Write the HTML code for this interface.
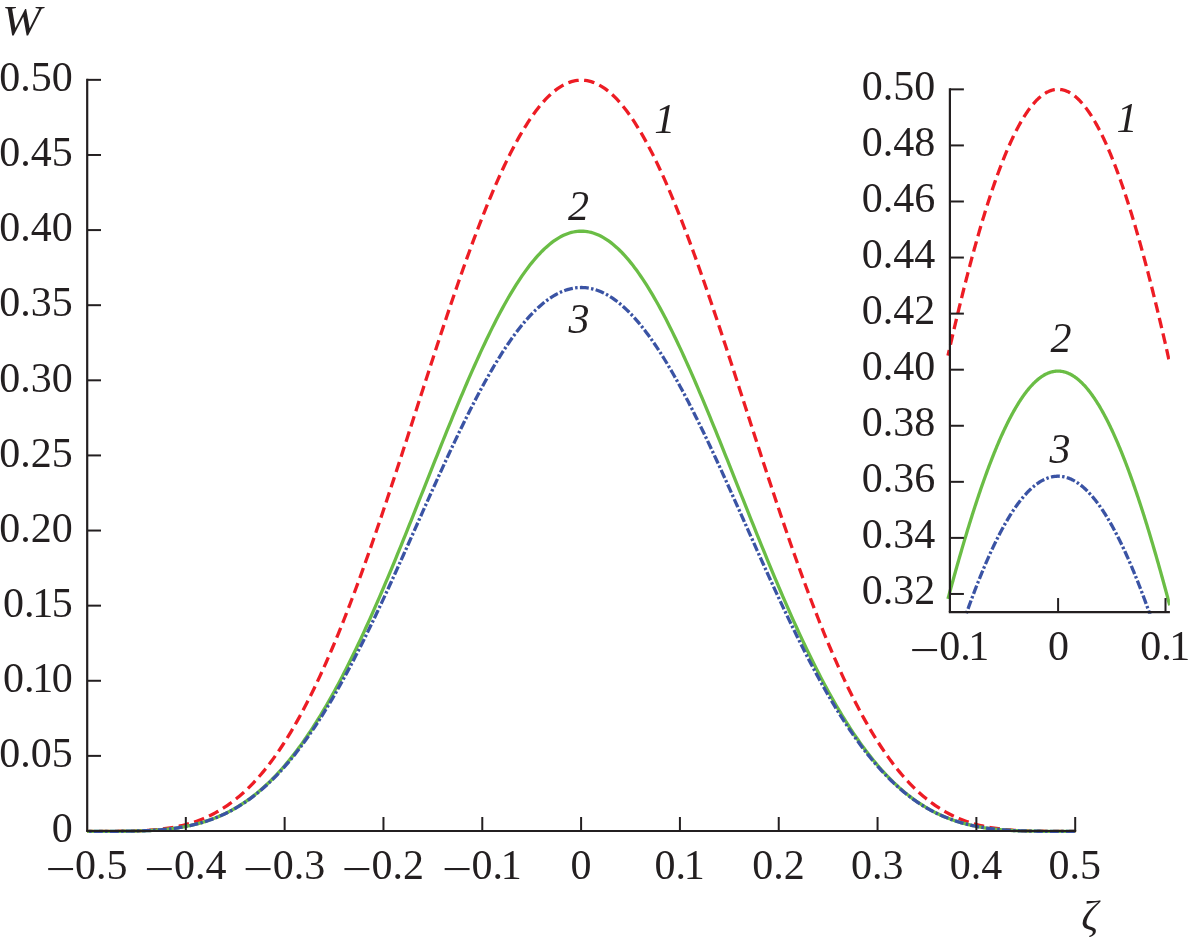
<!DOCTYPE html>
<html lang="en"><head><meta charset="utf-8"><title>W versus zeta</title>
<style>
html,body{margin:0;padding:0;background:#fff;}
body{width:1191px;height:937px;overflow:hidden;}
svg{display:block;}
text{font-family:"Liberation Serif","Times New Roman",serif;font-size:42px;fill:#231f20;}
.it{font-style:italic;}
.ax{stroke:#231f20;fill:none;}
</style></head><body>
<svg width="1191" height="937" viewBox="0 0 1191 937">
<rect width="1191" height="937" fill="#fff"/>
<g id="main-curves">
<path d="M87.20,831.35 L89.18,831.35 L91.15,831.35 L93.13,831.35 L95.11,831.35 L97.08,831.35 L99.06,831.35 L101.03,831.35 L103.01,831.35 L104.99,831.34 L106.96,831.34 L108.94,831.33 L110.92,831.33 L112.89,831.32 L114.87,831.31 L116.85,831.29 L118.82,831.27 L120.80,831.25 L122.78,831.23 L124.75,831.20 L126.73,831.16 L128.70,831.12 L130.68,831.08 L132.66,831.03 L134.63,830.97 L136.61,830.90 L138.59,830.82 L140.56,830.74 L142.54,830.65 L144.52,830.54 L146.49,830.42 L148.47,830.30 L150.44,830.16 L152.42,830.00 L154.40,829.83 L156.37,829.65 L158.35,829.45 L160.33,829.23 L162.30,829.00 L164.28,828.75 L166.26,828.48 L168.23,828.19 L170.21,827.87 L172.19,827.54 L174.16,827.18 L176.14,826.80 L178.11,826.39 L180.09,825.96 L182.07,825.50 L184.04,825.02 L186.02,824.50 L188.00,823.96 L189.97,823.38 L191.95,822.77 L193.93,822.13 L195.90,821.46 L197.88,820.75 L199.85,820.01 L201.83,819.23 L203.81,818.41 L205.78,817.56 L207.76,816.66 L209.74,815.72 L211.71,814.75 L213.69,813.73 L215.67,812.66 L217.64,811.56 L219.62,810.40 L221.60,809.20 L223.57,807.96 L225.55,806.66 L227.52,805.32 L229.50,803.93 L231.48,802.48 L233.45,800.99 L235.43,799.44 L237.41,797.84 L239.38,796.19 L241.36,794.48 L243.34,792.71 L245.31,790.89 L247.29,789.01 L249.26,787.08 L251.24,785.08 L253.22,783.03 L255.19,780.91 L257.17,778.74 L259.15,776.51 L261.12,774.21 L263.10,771.85 L265.08,769.43 L267.05,766.95 L269.03,764.40 L271.01,761.79 L272.98,759.11 L274.96,756.37 L276.93,753.57 L278.91,750.70 L280.89,747.76 L282.86,744.76 L284.84,741.69 L286.82,738.55 L288.79,735.35 L290.77,732.09 L292.75,728.75 L294.72,725.35 L296.70,721.88 L298.67,718.35 L300.65,714.75 L302.63,711.08 L304.60,707.34 L306.58,703.54 L308.56,699.68 L310.53,695.75 L312.51,691.75 L314.49,687.68 L316.46,683.56 L318.44,679.36 L320.42,675.11 L322.39,670.79 L324.37,666.40 L326.34,661.96 L328.32,657.45 L330.30,652.88 L332.27,648.25 L334.25,643.56 L336.23,638.81 L338.20,634.01 L340.18,629.14 L342.16,624.22 L344.13,619.24 L346.11,614.21 L348.08,609.12 L350.06,603.98 L352.04,598.78 L354.01,593.54 L355.99,588.25 L357.97,582.90 L359.94,577.51 L361.92,572.08 L363.90,566.59 L365.87,561.07 L367.85,555.50 L369.83,549.89 L371.80,544.24 L373.78,538.55 L375.75,532.82 L377.73,527.06 L379.71,521.26 L381.68,515.43 L383.66,509.57 L385.64,503.68 L387.61,497.76 L389.59,491.82 L391.57,485.85 L393.54,479.86 L395.52,473.84 L397.49,467.81 L399.47,461.76 L401.45,455.69 L403.42,449.61 L405.40,443.51 L407.38,437.41 L409.35,431.29 L411.33,425.17 L413.31,419.04 L415.28,412.92 L417.26,406.78 L419.24,400.65 L421.21,394.53 L423.19,388.40 L425.16,382.29 L427.14,376.18 L429.12,370.08 L431.09,364.00 L433.07,357.93 L435.05,351.87 L437.02,345.84 L439.00,339.82 L440.98,333.83 L442.95,327.86 L444.93,321.92 L446.90,316.01 L448.88,310.13 L450.86,304.28 L452.83,298.47 L454.81,292.69 L456.79,286.95 L458.76,281.25 L460.74,275.60 L462.72,269.99 L464.69,264.43 L466.67,258.92 L468.65,253.45 L470.62,248.04 L472.60,242.69 L474.57,237.39 L476.55,232.15 L478.53,226.97 L480.50,221.86 L482.48,216.81 L484.46,211.82 L486.43,206.91 L488.41,202.06 L490.39,197.28 L492.36,192.58 L494.34,187.96 L496.31,183.41 L498.29,178.94 L500.27,174.55 L502.24,170.24 L504.22,166.02 L506.20,161.88 L508.17,157.82 L510.15,153.86 L512.13,149.99 L514.10,146.21 L516.08,142.52 L518.06,138.92 L520.03,135.42 L522.01,132.02 L523.98,128.72 L525.96,125.52 L527.94,122.41 L529.91,119.41 L531.89,116.51 L533.87,113.72 L535.84,111.03 L537.82,108.45 L539.80,105.98 L541.77,103.61 L543.75,101.36 L545.72,99.21 L547.70,97.18 L549.68,95.26 L551.65,93.45 L553.63,91.75 L555.61,90.17 L557.58,88.70 L559.56,87.35 L561.54,86.11 L563.51,84.99 L565.49,83.99 L567.47,83.10 L569.44,82.33 L571.42,81.68 L573.39,81.15 L575.37,80.73 L577.35,80.44 L579.32,80.26 L581.30,80.20 L583.28,80.26 L585.25,80.44 L587.23,80.73 L589.21,81.15 L591.18,81.68 L593.16,82.33 L595.13,83.10 L597.11,83.99 L599.09,84.99 L601.06,86.11 L603.04,87.35 L605.02,88.70 L606.99,90.17 L608.97,91.75 L610.95,93.45 L612.92,95.26 L614.90,97.18 L616.88,99.21 L618.85,101.36 L620.83,103.61 L622.80,105.98 L624.78,108.45 L626.76,111.03 L628.73,113.72 L630.71,116.51 L632.69,119.41 L634.66,122.41 L636.64,125.52 L638.62,128.72 L640.59,132.02 L642.57,135.42 L644.54,138.92 L646.52,142.52 L648.50,146.21 L650.47,149.99 L652.45,153.86 L654.43,157.82 L656.40,161.88 L658.38,166.02 L660.36,170.24 L662.33,174.55 L664.31,178.94 L666.29,183.41 L668.26,187.96 L670.24,192.58 L672.21,197.28 L674.19,202.06 L676.17,206.91 L678.14,211.82 L680.12,216.81 L682.10,221.86 L684.07,226.97 L686.05,232.15 L688.03,237.39 L690.00,242.69 L691.98,248.04 L693.95,253.45 L695.93,258.92 L697.91,264.43 L699.88,269.99 L701.86,275.60 L703.84,281.25 L705.81,286.95 L707.79,292.69 L709.77,298.47 L711.74,304.28 L713.72,310.13 L715.70,316.01 L717.67,321.92 L719.65,327.86 L721.62,333.83 L723.60,339.82 L725.58,345.84 L727.55,351.87 L729.53,357.93 L731.51,364.00 L733.48,370.08 L735.46,376.18 L737.44,382.29 L739.41,388.40 L741.39,394.53 L743.36,400.65 L745.34,406.78 L747.32,412.92 L749.29,419.04 L751.27,425.17 L753.25,431.29 L755.22,437.41 L757.20,443.51 L759.18,449.61 L761.15,455.69 L763.13,461.76 L765.11,467.81 L767.08,473.84 L769.06,479.86 L771.03,485.85 L773.01,491.82 L774.99,497.76 L776.96,503.68 L778.94,509.57 L780.92,515.43 L782.89,521.26 L784.87,527.06 L786.85,532.82 L788.82,538.55 L790.80,544.24 L792.77,549.89 L794.75,555.50 L796.73,561.07 L798.70,566.59 L800.68,572.08 L802.66,577.51 L804.63,582.90 L806.61,588.25 L808.59,593.54 L810.56,598.78 L812.54,603.98 L814.52,609.12 L816.49,614.21 L818.47,619.24 L820.44,624.22 L822.42,629.14 L824.40,634.01 L826.37,638.81 L828.35,643.56 L830.33,648.25 L832.30,652.88 L834.28,657.45 L836.26,661.96 L838.23,666.40 L840.21,670.79 L842.18,675.11 L844.16,679.36 L846.14,683.56 L848.11,687.68 L850.09,691.75 L852.07,695.75 L854.04,699.68 L856.02,703.54 L858.00,707.34 L859.97,711.08 L861.95,714.75 L863.93,718.35 L865.90,721.88 L867.88,725.35 L869.85,728.75 L871.83,732.09 L873.81,735.35 L875.78,738.55 L877.76,741.69 L879.74,744.76 L881.71,747.76 L883.69,750.70 L885.67,753.57 L887.64,756.37 L889.62,759.11 L891.59,761.79 L893.57,764.40 L895.55,766.95 L897.52,769.43 L899.50,771.85 L901.48,774.21 L903.45,776.51 L905.43,778.74 L907.41,780.91 L909.38,783.03 L911.36,785.08 L913.34,787.08 L915.31,789.01 L917.29,790.89 L919.26,792.71 L921.24,794.48 L923.22,796.19 L925.19,797.84 L927.17,799.44 L929.15,800.99 L931.12,802.48 L933.10,803.93 L935.08,805.32 L937.05,806.66 L939.03,807.96 L941.00,809.20 L942.98,810.40 L944.96,811.56 L946.93,812.66 L948.91,813.73 L950.89,814.75 L952.86,815.72 L954.84,816.66 L956.82,817.56 L958.79,818.41 L960.77,819.23 L962.75,820.01 L964.72,820.75 L966.70,821.46 L968.67,822.13 L970.65,822.77 L972.63,823.38 L974.60,823.96 L976.58,824.50 L978.56,825.02 L980.53,825.50 L982.51,825.96 L984.49,826.39 L986.46,826.80 L988.44,827.18 L990.41,827.54 L992.39,827.87 L994.37,828.19 L996.34,828.48 L998.32,828.75 L1000.30,829.00 L1002.27,829.23 L1004.25,829.45 L1006.23,829.65 L1008.20,829.83 L1010.18,830.00 L1012.16,830.16 L1014.13,830.30 L1016.11,830.42 L1018.08,830.54 L1020.06,830.65 L1022.04,830.74 L1024.01,830.82 L1025.99,830.90 L1027.97,830.97 L1029.94,831.03 L1031.92,831.08 L1033.90,831.12 L1035.87,831.16 L1037.85,831.20 L1039.82,831.23 L1041.80,831.25 L1043.78,831.27 L1045.75,831.29 L1047.73,831.31 L1049.71,831.32 L1051.68,831.33 L1053.66,831.33 L1055.64,831.34 L1057.61,831.34 L1059.59,831.35 L1061.57,831.35 L1063.54,831.35 L1065.52,831.35 L1067.49,831.35 L1069.47,831.35 L1071.45,831.35 L1073.42,831.35 L1075.40,831.35" fill="none" stroke="#ed1c24" stroke-width="3.3" stroke-dasharray="10.6 5.4" stroke-dashoffset="4.15"/>
<path d="M87.20,831.35 L89.18,831.35 L91.15,831.35 L93.13,831.35 L95.11,831.35 L97.08,831.35 L99.06,831.35 L101.03,831.35 L103.01,831.35 L104.99,831.34 L106.96,831.34 L108.94,831.34 L110.92,831.33 L112.89,831.33 L114.87,831.32 L116.85,831.31 L118.82,831.29 L120.80,831.28 L122.78,831.26 L124.75,831.24 L126.73,831.22 L128.70,831.19 L130.68,831.15 L132.66,831.12 L134.63,831.07 L136.61,831.02 L138.59,830.97 L140.56,830.91 L142.54,830.84 L144.52,830.76 L146.49,830.68 L148.47,830.59 L150.44,830.48 L152.42,830.37 L154.40,830.25 L156.37,830.12 L158.35,829.97 L160.33,829.82 L162.30,829.65 L164.28,829.47 L166.26,829.27 L168.23,829.06 L170.21,828.83 L172.19,828.59 L174.16,828.33 L176.14,828.05 L178.11,827.76 L180.09,827.44 L182.07,827.11 L184.04,826.76 L186.02,826.38 L188.00,825.99 L189.97,825.57 L191.95,825.13 L193.93,824.67 L195.90,824.18 L197.88,823.66 L199.85,823.12 L201.83,822.55 L203.81,821.96 L205.78,821.34 L207.76,820.69 L209.74,820.00 L211.71,819.29 L213.69,818.55 L215.67,817.77 L217.64,816.97 L219.62,816.13 L221.60,815.25 L223.57,814.34 L225.55,813.40 L227.52,812.42 L229.50,811.40 L231.48,810.34 L233.45,809.25 L235.43,808.12 L237.41,806.95 L239.38,805.74 L241.36,804.48 L243.34,803.19 L245.31,801.85 L247.29,800.47 L249.26,799.05 L251.24,797.59 L253.22,796.08 L255.19,794.52 L257.17,792.92 L259.15,791.28 L261.12,789.59 L263.10,787.85 L265.08,786.06 L267.05,784.22 L269.03,782.34 L271.01,780.41 L272.98,778.43 L274.96,776.40 L276.93,774.32 L278.91,772.19 L280.89,770.01 L282.86,767.78 L284.84,765.49 L286.82,763.16 L288.79,760.77 L290.77,758.34 L292.75,755.85 L294.72,753.31 L296.70,750.71 L298.67,748.07 L300.65,745.37 L302.63,742.62 L304.60,739.81 L306.58,736.96 L308.56,734.05 L310.53,731.08 L312.51,728.07 L314.49,725.00 L316.46,721.88 L318.44,718.71 L320.42,715.49 L322.39,712.21 L324.37,708.89 L326.34,705.51 L328.32,702.08 L330.30,698.60 L332.27,695.07 L334.25,691.49 L336.23,687.85 L338.20,684.17 L340.18,680.45 L342.16,676.67 L344.13,672.84 L346.11,668.97 L348.08,665.05 L350.06,661.09 L352.04,657.08 L354.01,653.02 L355.99,648.92 L357.97,644.78 L359.94,640.59 L361.92,636.37 L363.90,632.10 L365.87,627.79 L367.85,623.44 L369.83,619.06 L371.80,614.63 L373.78,610.17 L375.75,605.68 L377.73,601.15 L379.71,596.59 L381.68,591.99 L383.66,587.37 L385.64,582.71 L387.61,578.02 L389.59,573.31 L391.57,568.57 L393.54,563.81 L395.52,559.02 L397.49,554.21 L399.47,549.38 L401.45,544.53 L403.42,539.66 L405.40,534.77 L407.38,529.87 L409.35,524.96 L411.33,520.03 L413.31,515.09 L415.28,510.14 L417.26,505.18 L419.24,500.22 L421.21,495.25 L423.19,490.28 L425.16,485.30 L427.14,480.33 L429.12,475.36 L431.09,470.39 L433.07,465.42 L435.05,460.47 L437.02,455.52 L439.00,450.58 L440.98,445.66 L442.95,440.74 L444.93,435.85 L446.90,430.97 L448.88,426.11 L450.86,421.27 L452.83,416.45 L454.81,411.66 L456.79,406.89 L458.76,402.15 L460.74,397.44 L462.72,392.77 L464.69,388.12 L466.67,383.52 L468.65,378.95 L470.62,374.41 L472.60,369.92 L474.57,365.47 L476.55,361.07 L478.53,356.71 L480.50,352.40 L482.48,348.14 L484.46,343.93 L486.43,339.78 L488.41,335.67 L490.39,331.63 L492.36,327.64 L494.34,323.72 L496.31,319.85 L498.29,316.05 L500.27,312.32 L502.24,308.65 L504.22,305.04 L506.20,301.51 L508.17,298.05 L510.15,294.66 L512.13,291.35 L514.10,288.11 L516.08,284.95 L518.06,281.87 L520.03,278.86 L522.01,275.94 L523.98,273.10 L525.96,270.35 L527.94,267.68 L529.91,265.09 L531.89,262.60 L533.87,260.19 L535.84,257.87 L537.82,255.64 L539.80,253.51 L541.77,251.46 L543.75,249.51 L545.72,247.66 L547.70,245.90 L549.68,244.23 L551.65,242.67 L553.63,241.20 L555.61,239.83 L557.58,238.56 L559.56,237.38 L561.54,236.31 L563.51,235.34 L565.49,234.47 L567.47,233.70 L569.44,233.03 L571.42,232.47 L573.39,232.00 L575.37,231.64 L577.35,231.39 L579.32,231.23 L581.30,231.18 L583.28,231.23 L585.25,231.39 L587.23,231.64 L589.21,232.00 L591.18,232.47 L593.16,233.03 L595.13,233.70 L597.11,234.47 L599.09,235.34 L601.06,236.31 L603.04,237.38 L605.02,238.56 L606.99,239.83 L608.97,241.20 L610.95,242.67 L612.92,244.23 L614.90,245.90 L616.88,247.66 L618.85,249.51 L620.83,251.46 L622.80,253.51 L624.78,255.64 L626.76,257.87 L628.73,260.19 L630.71,262.60 L632.69,265.09 L634.66,267.68 L636.64,270.35 L638.62,273.10 L640.59,275.94 L642.57,278.86 L644.54,281.87 L646.52,284.95 L648.50,288.11 L650.47,291.35 L652.45,294.66 L654.43,298.05 L656.40,301.51 L658.38,305.04 L660.36,308.65 L662.33,312.32 L664.31,316.05 L666.29,319.85 L668.26,323.72 L670.24,327.64 L672.21,331.63 L674.19,335.67 L676.17,339.78 L678.14,343.93 L680.12,348.14 L682.10,352.40 L684.07,356.71 L686.05,361.07 L688.03,365.47 L690.00,369.92 L691.98,374.41 L693.95,378.95 L695.93,383.52 L697.91,388.12 L699.88,392.77 L701.86,397.44 L703.84,402.15 L705.81,406.89 L707.79,411.66 L709.77,416.45 L711.74,421.27 L713.72,426.11 L715.70,430.97 L717.67,435.85 L719.65,440.74 L721.62,445.66 L723.60,450.58 L725.58,455.52 L727.55,460.47 L729.53,465.42 L731.51,470.39 L733.48,475.36 L735.46,480.33 L737.44,485.30 L739.41,490.28 L741.39,495.25 L743.36,500.22 L745.34,505.18 L747.32,510.14 L749.29,515.09 L751.27,520.03 L753.25,524.96 L755.22,529.87 L757.20,534.77 L759.18,539.66 L761.15,544.53 L763.13,549.38 L765.11,554.21 L767.08,559.02 L769.06,563.81 L771.03,568.57 L773.01,573.31 L774.99,578.02 L776.96,582.71 L778.94,587.37 L780.92,591.99 L782.89,596.59 L784.87,601.15 L786.85,605.68 L788.82,610.17 L790.80,614.63 L792.77,619.06 L794.75,623.44 L796.73,627.79 L798.70,632.10 L800.68,636.37 L802.66,640.59 L804.63,644.78 L806.61,648.92 L808.59,653.02 L810.56,657.08 L812.54,661.09 L814.52,665.05 L816.49,668.97 L818.47,672.84 L820.44,676.67 L822.42,680.45 L824.40,684.17 L826.37,687.85 L828.35,691.49 L830.33,695.07 L832.30,698.60 L834.28,702.08 L836.26,705.51 L838.23,708.89 L840.21,712.21 L842.18,715.49 L844.16,718.71 L846.14,721.88 L848.11,725.00 L850.09,728.07 L852.07,731.08 L854.04,734.05 L856.02,736.96 L858.00,739.81 L859.97,742.62 L861.95,745.37 L863.93,748.07 L865.90,750.71 L867.88,753.31 L869.85,755.85 L871.83,758.34 L873.81,760.77 L875.78,763.16 L877.76,765.49 L879.74,767.78 L881.71,770.01 L883.69,772.19 L885.67,774.32 L887.64,776.40 L889.62,778.43 L891.59,780.41 L893.57,782.34 L895.55,784.22 L897.52,786.06 L899.50,787.85 L901.48,789.59 L903.45,791.28 L905.43,792.92 L907.41,794.52 L909.38,796.08 L911.36,797.59 L913.34,799.05 L915.31,800.47 L917.29,801.85 L919.26,803.19 L921.24,804.48 L923.22,805.74 L925.19,806.95 L927.17,808.12 L929.15,809.25 L931.12,810.34 L933.10,811.40 L935.08,812.42 L937.05,813.40 L939.03,814.34 L941.00,815.25 L942.98,816.13 L944.96,816.97 L946.93,817.77 L948.91,818.55 L950.89,819.29 L952.86,820.00 L954.84,820.69 L956.82,821.34 L958.79,821.96 L960.77,822.55 L962.75,823.12 L964.72,823.66 L966.70,824.18 L968.67,824.67 L970.65,825.13 L972.63,825.57 L974.60,825.99 L976.58,826.38 L978.56,826.76 L980.53,827.11 L982.51,827.44 L984.49,827.76 L986.46,828.05 L988.44,828.33 L990.41,828.59 L992.39,828.83 L994.37,829.06 L996.34,829.27 L998.32,829.47 L1000.30,829.65 L1002.27,829.82 L1004.25,829.97 L1006.23,830.12 L1008.20,830.25 L1010.18,830.37 L1012.16,830.48 L1014.13,830.59 L1016.11,830.68 L1018.08,830.76 L1020.06,830.84 L1022.04,830.91 L1024.01,830.97 L1025.99,831.02 L1027.97,831.07 L1029.94,831.12 L1031.92,831.15 L1033.90,831.19 L1035.87,831.22 L1037.85,831.24 L1039.82,831.26 L1041.80,831.28 L1043.78,831.29 L1045.75,831.31 L1047.73,831.32 L1049.71,831.33 L1051.68,831.33 L1053.66,831.34 L1055.64,831.34 L1057.61,831.34 L1059.59,831.35 L1061.57,831.35 L1063.54,831.35 L1065.52,831.35 L1067.49,831.35 L1069.47,831.35 L1071.45,831.35 L1073.42,831.35 L1075.40,831.35" fill="none" stroke="#6abd45" stroke-width="3.3"/>
<path d="M87.20,831.35 L89.18,831.35 L91.15,831.35 L93.13,831.35 L95.11,831.35 L97.08,831.35 L99.06,831.35 L101.03,831.35 L103.01,831.35 L104.99,831.34 L106.96,831.34 L108.94,831.34 L110.92,831.33 L112.89,831.33 L114.87,831.32 L116.85,831.31 L118.82,831.29 L120.80,831.28 L122.78,831.26 L124.75,831.24 L126.73,831.22 L128.70,831.19 L130.68,831.15 L132.66,831.12 L134.63,831.07 L136.61,831.02 L138.59,830.97 L140.56,830.91 L142.54,830.84 L144.52,830.76 L146.49,830.68 L148.47,830.59 L150.44,830.48 L152.42,830.37 L154.40,830.25 L156.37,830.12 L158.35,829.97 L160.33,829.82 L162.30,829.65 L164.28,829.47 L166.26,829.27 L168.23,829.06 L170.21,828.83 L172.19,828.59 L174.16,828.33 L176.14,828.06 L178.11,827.76 L180.09,827.45 L182.07,827.12 L184.04,826.76 L186.02,826.39 L188.00,826.00 L189.97,825.58 L191.95,825.14 L193.93,824.68 L195.90,824.19 L197.88,823.68 L199.85,823.14 L201.83,822.57 L203.81,821.98 L205.78,821.36 L207.76,820.71 L209.74,820.04 L211.71,819.33 L213.69,818.59 L215.67,817.82 L217.64,817.02 L219.62,816.18 L221.60,815.32 L223.57,814.41 L225.55,813.48 L227.52,812.50 L229.50,811.50 L231.48,810.45 L233.45,809.37 L235.43,808.25 L237.41,807.09 L239.38,805.89 L241.36,804.65 L243.34,803.38 L245.31,802.06 L247.29,800.70 L249.26,799.30 L251.24,797.85 L253.22,796.36 L255.19,794.83 L257.17,793.26 L259.15,791.64 L261.12,789.98 L263.10,788.27 L265.08,786.52 L267.05,784.72 L269.03,782.88 L271.01,780.99 L272.98,779.05 L274.96,777.07 L276.93,775.04 L278.91,772.96 L280.89,770.83 L282.86,768.66 L284.84,766.44 L286.82,764.17 L288.79,761.85 L290.77,759.48 L292.75,757.07 L294.72,754.61 L296.70,752.10 L298.67,749.54 L300.65,746.93 L302.63,744.27 L304.60,741.57 L306.58,738.82 L308.56,736.02 L310.53,733.17 L312.51,730.28 L314.49,727.34 L316.46,724.35 L318.44,721.31 L320.42,718.23 L322.39,715.10 L324.37,711.93 L326.34,708.71 L328.32,705.45 L330.30,702.14 L332.27,698.79 L334.25,695.39 L336.23,691.95 L338.20,688.47 L340.18,684.95 L342.16,681.39 L344.13,677.78 L346.11,674.14 L348.08,670.45 L350.06,666.73 L352.04,662.97 L354.01,659.18 L355.99,655.34 L357.97,651.47 L359.94,647.57 L361.92,643.64 L363.90,639.67 L365.87,635.66 L367.85,631.63 L369.83,627.57 L371.80,623.48 L373.78,619.36 L375.75,615.21 L377.73,611.04 L379.71,606.85 L381.68,602.63 L383.66,598.38 L385.64,594.12 L387.61,589.83 L389.59,585.53 L391.57,581.21 L393.54,576.87 L395.52,572.51 L397.49,568.15 L399.47,563.76 L401.45,559.37 L403.42,554.97 L405.40,550.56 L407.38,546.14 L409.35,541.71 L411.33,537.28 L413.31,532.84 L415.28,528.40 L417.26,523.96 L419.24,519.53 L421.21,515.09 L423.19,510.66 L425.16,506.23 L427.14,501.81 L429.12,497.39 L431.09,492.99 L433.07,488.59 L435.05,484.21 L437.02,479.84 L439.00,475.48 L440.98,471.15 L442.95,466.82 L444.93,462.52 L446.90,458.24 L448.88,453.99 L450.86,449.75 L452.83,445.54 L454.81,441.36 L456.79,437.21 L458.76,433.08 L460.74,428.99 L462.72,424.93 L464.69,420.90 L466.67,416.91 L468.65,412.95 L470.62,409.04 L472.60,405.16 L474.57,401.32 L476.55,397.53 L478.53,393.78 L480.50,390.08 L482.48,386.42 L484.46,382.81 L486.43,379.25 L488.41,375.74 L490.39,372.29 L492.36,368.88 L494.34,365.53 L496.31,362.24 L498.29,359.00 L500.27,355.82 L502.24,352.71 L504.22,349.65 L506.20,346.65 L508.17,343.72 L510.15,340.85 L512.13,338.04 L514.10,335.31 L516.08,332.64 L518.06,330.03 L520.03,327.50 L522.01,325.04 L523.98,322.65 L525.96,320.33 L527.94,318.08 L529.91,315.91 L531.89,313.81 L533.87,311.79 L535.84,309.84 L537.82,307.97 L539.80,306.18 L541.77,304.47 L543.75,302.84 L545.72,301.28 L547.70,299.81 L549.68,298.42 L551.65,297.11 L553.63,295.88 L555.61,294.73 L557.58,293.67 L559.56,292.69 L561.54,291.80 L563.51,290.99 L565.49,290.26 L567.47,289.62 L569.44,289.06 L571.42,288.59 L573.39,288.20 L575.37,287.90 L577.35,287.69 L579.32,287.56 L581.30,287.52 L583.28,287.56 L585.25,287.69 L587.23,287.90 L589.21,288.20 L591.18,288.59 L593.16,289.06 L595.13,289.62 L597.11,290.26 L599.09,290.99 L601.06,291.80 L603.04,292.69 L605.02,293.67 L606.99,294.73 L608.97,295.88 L610.95,297.11 L612.92,298.42 L614.90,299.81 L616.88,301.28 L618.85,302.84 L620.83,304.47 L622.80,306.18 L624.78,307.97 L626.76,309.84 L628.73,311.79 L630.71,313.81 L632.69,315.91 L634.66,318.08 L636.64,320.33 L638.62,322.65 L640.59,325.04 L642.57,327.50 L644.54,330.03 L646.52,332.64 L648.50,335.31 L650.47,338.04 L652.45,340.85 L654.43,343.72 L656.40,346.65 L658.38,349.65 L660.36,352.71 L662.33,355.82 L664.31,359.00 L666.29,362.24 L668.26,365.53 L670.24,368.88 L672.21,372.29 L674.19,375.74 L676.17,379.25 L678.14,382.81 L680.12,386.42 L682.10,390.08 L684.07,393.78 L686.05,397.53 L688.03,401.32 L690.00,405.16 L691.98,409.04 L693.95,412.95 L695.93,416.91 L697.91,420.90 L699.88,424.93 L701.86,428.99 L703.84,433.08 L705.81,437.21 L707.79,441.36 L709.77,445.54 L711.74,449.75 L713.72,453.99 L715.70,458.24 L717.67,462.52 L719.65,466.82 L721.62,471.15 L723.60,475.48 L725.58,479.84 L727.55,484.21 L729.53,488.59 L731.51,492.99 L733.48,497.39 L735.46,501.81 L737.44,506.23 L739.41,510.66 L741.39,515.09 L743.36,519.53 L745.34,523.96 L747.32,528.40 L749.29,532.84 L751.27,537.28 L753.25,541.71 L755.22,546.14 L757.20,550.56 L759.18,554.97 L761.15,559.37 L763.13,563.76 L765.11,568.15 L767.08,572.51 L769.06,576.87 L771.03,581.21 L773.01,585.53 L774.99,589.83 L776.96,594.12 L778.94,598.38 L780.92,602.63 L782.89,606.85 L784.87,611.04 L786.85,615.21 L788.82,619.36 L790.80,623.48 L792.77,627.57 L794.75,631.63 L796.73,635.66 L798.70,639.67 L800.68,643.64 L802.66,647.57 L804.63,651.47 L806.61,655.34 L808.59,659.18 L810.56,662.97 L812.54,666.73 L814.52,670.45 L816.49,674.14 L818.47,677.78 L820.44,681.39 L822.42,684.95 L824.40,688.47 L826.37,691.95 L828.35,695.39 L830.33,698.79 L832.30,702.14 L834.28,705.45 L836.26,708.71 L838.23,711.93 L840.21,715.10 L842.18,718.23 L844.16,721.31 L846.14,724.35 L848.11,727.34 L850.09,730.28 L852.07,733.17 L854.04,736.02 L856.02,738.82 L858.00,741.57 L859.97,744.27 L861.95,746.93 L863.93,749.54 L865.90,752.10 L867.88,754.61 L869.85,757.07 L871.83,759.48 L873.81,761.85 L875.78,764.17 L877.76,766.44 L879.74,768.66 L881.71,770.83 L883.69,772.96 L885.67,775.04 L887.64,777.07 L889.62,779.05 L891.59,780.99 L893.57,782.88 L895.55,784.72 L897.52,786.52 L899.50,788.27 L901.48,789.98 L903.45,791.64 L905.43,793.26 L907.41,794.83 L909.38,796.36 L911.36,797.85 L913.34,799.30 L915.31,800.70 L917.29,802.06 L919.26,803.38 L921.24,804.65 L923.22,805.89 L925.19,807.09 L927.17,808.25 L929.15,809.37 L931.12,810.45 L933.10,811.50 L935.08,812.50 L937.05,813.48 L939.03,814.41 L941.00,815.32 L942.98,816.18 L944.96,817.02 L946.93,817.82 L948.91,818.59 L950.89,819.33 L952.86,820.04 L954.84,820.71 L956.82,821.36 L958.79,821.98 L960.77,822.57 L962.75,823.14 L964.72,823.68 L966.70,824.19 L968.67,824.68 L970.65,825.14 L972.63,825.58 L974.60,826.00 L976.58,826.39 L978.56,826.76 L980.53,827.12 L982.51,827.45 L984.49,827.76 L986.46,828.06 L988.44,828.33 L990.41,828.59 L992.39,828.83 L994.37,829.06 L996.34,829.27 L998.32,829.47 L1000.30,829.65 L1002.27,829.82 L1004.25,829.97 L1006.23,830.12 L1008.20,830.25 L1010.18,830.37 L1012.16,830.48 L1014.13,830.59 L1016.11,830.68 L1018.08,830.76 L1020.06,830.84 L1022.04,830.91 L1024.01,830.97 L1025.99,831.02 L1027.97,831.07 L1029.94,831.12 L1031.92,831.15 L1033.90,831.19 L1035.87,831.22 L1037.85,831.24 L1039.82,831.26 L1041.80,831.28 L1043.78,831.29 L1045.75,831.31 L1047.73,831.32 L1049.71,831.33 L1051.68,831.33 L1053.66,831.34 L1055.64,831.34 L1057.61,831.34 L1059.59,831.35 L1061.57,831.35 L1063.54,831.35 L1065.52,831.35 L1067.49,831.35 L1069.47,831.35 L1071.45,831.35 L1073.42,831.35 L1075.40,831.35" fill="none" stroke="#3a53a4" stroke-width="3.3" stroke-dasharray="8.9 2.3 2.5 2.3" stroke-dashoffset="9.31"/>
</g>
<clipPath id="ic"><rect x="930" y="60" width="239.9000000000001" height="553.65"/></clipPath>
<g id="inset-curves" clip-path="url(#ic)">
<path d="M947.97,355.60 L948.41,353.63 L948.86,351.68 L949.30,349.73 L949.75,347.78 L950.19,345.84 L950.63,343.91 L951.08,341.98 L951.52,340.06 L951.96,338.14 L952.41,336.22 L952.85,334.32 L953.29,332.41 L953.74,330.52 L954.18,328.63 L954.62,326.74 L955.07,324.86 L955.51,322.98 L955.96,321.12 L956.40,319.25 L956.84,317.39 L957.29,315.54 L957.73,313.70 L958.17,311.85 L958.62,310.02 L959.06,308.19 L959.50,306.37 L959.95,304.55 L960.39,302.74 L960.83,300.93 L961.28,299.13 L961.72,297.34 L962.16,295.55 L962.61,293.77 L963.05,291.99 L963.50,290.23 L963.94,288.46 L964.38,286.70 L964.83,284.95 L965.27,283.21 L965.71,281.47 L966.16,279.74 L966.60,278.01 L967.04,276.29 L967.49,274.58 L967.93,272.87 L968.37,271.17 L968.82,269.48 L969.26,267.79 L969.71,266.11 L970.15,264.44 L970.59,262.77 L971.04,261.11 L971.48,259.45 L971.92,257.80 L972.37,256.16 L972.81,254.53 L973.25,252.90 L973.70,251.28 L974.14,249.66 L974.58,248.05 L975.03,246.45 L975.47,244.86 L975.92,243.27 L976.36,241.69 L976.80,240.12 L977.25,238.55 L977.69,236.99 L978.13,235.44 L978.58,233.89 L979.02,232.35 L979.46,230.82 L979.91,229.30 L980.35,227.78 L980.79,226.27 L981.24,224.77 L981.68,223.27 L982.12,221.78 L982.57,220.30 L983.01,218.83 L983.46,217.36 L983.90,215.90 L984.34,214.45 L984.79,213.00 L985.23,211.57 L985.67,210.13 L986.12,208.71 L986.56,207.30 L987.00,205.89 L987.45,204.49 L987.89,203.10 L988.33,201.71 L988.78,200.33 L989.22,198.96 L989.67,197.60 L990.11,196.25 L990.55,194.90 L991.00,193.56 L991.44,192.23 L991.88,190.90 L992.33,189.59 L992.77,188.28 L993.21,186.98 L993.66,185.68 L994.10,184.40 L994.54,183.12 L994.99,181.85 L995.43,180.59 L995.87,179.34 L996.32,178.09 L996.76,176.85 L997.21,175.62 L997.65,174.40 L998.09,173.19 L998.54,171.98 L998.98,170.78 L999.42,169.59 L999.87,168.41 L1000.31,167.24 L1000.75,166.07 L1001.20,164.92 L1001.64,163.77 L1002.08,162.63 L1002.53,161.49 L1002.97,160.37 L1003.42,159.25 L1003.86,158.15 L1004.30,157.05 L1004.75,155.96 L1005.19,154.87 L1005.63,153.80 L1006.08,152.73 L1006.52,151.67 L1006.96,150.62 L1007.41,149.58 L1007.85,148.55 L1008.29,147.53 L1008.74,146.51 L1009.18,145.50 L1009.63,144.50 L1010.07,143.51 L1010.51,142.53 L1010.96,141.56 L1011.40,140.59 L1011.84,139.64 L1012.29,138.69 L1012.73,137.75 L1013.17,136.82 L1013.62,135.90 L1014.06,134.99 L1014.50,134.08 L1014.95,133.19 L1015.39,132.30 L1015.83,131.42 L1016.28,130.55 L1016.72,129.69 L1017.17,128.84 L1017.61,128.00 L1018.05,127.16 L1018.50,126.33 L1018.94,125.52 L1019.38,124.71 L1019.83,123.91 L1020.27,123.12 L1020.71,122.34 L1021.16,121.57 L1021.60,120.80 L1022.04,120.05 L1022.49,119.30 L1022.93,118.56 L1023.38,117.84 L1023.82,117.12 L1024.26,116.41 L1024.71,115.71 L1025.15,115.01 L1025.59,114.33 L1026.04,113.66 L1026.48,112.99 L1026.92,112.33 L1027.37,111.69 L1027.81,111.05 L1028.25,110.42 L1028.70,109.80 L1029.14,109.19 L1029.59,108.59 L1030.03,108.00 L1030.47,107.41 L1030.92,106.84 L1031.36,106.27 L1031.80,105.72 L1032.25,105.17 L1032.69,104.63 L1033.13,104.10 L1033.58,103.58 L1034.02,103.07 L1034.46,102.57 L1034.91,102.08 L1035.35,101.60 L1035.79,101.12 L1036.24,100.66 L1036.68,100.21 L1037.13,99.76 L1037.57,99.32 L1038.01,98.90 L1038.46,98.48 L1038.90,98.07 L1039.34,97.67 L1039.79,97.28 L1040.23,96.90 L1040.67,96.53 L1041.12,96.17 L1041.56,95.81 L1042.00,95.47 L1042.45,95.14 L1042.89,94.81 L1043.34,94.50 L1043.78,94.19 L1044.22,93.89 L1044.67,93.61 L1045.11,93.33 L1045.55,93.06 L1046.00,92.80 L1046.44,92.55 L1046.88,92.31 L1047.33,92.08 L1047.77,91.86 L1048.21,91.64 L1048.66,91.44 L1049.10,91.25 L1049.54,91.06 L1049.99,90.89 L1050.43,90.72 L1050.88,90.57 L1051.32,90.42 L1051.76,90.28 L1052.21,90.15 L1052.65,90.04 L1053.09,89.93 L1053.54,89.83 L1053.98,89.74 L1054.42,89.66 L1054.87,89.59 L1055.31,89.52 L1055.75,89.47 L1056.20,89.43 L1056.64,89.39 L1057.09,89.37 L1057.53,89.36 L1057.97,89.35 L1058.42,89.35 L1058.86,89.37 L1059.30,89.39 L1059.75,89.42 L1060.19,89.46 L1060.63,89.52 L1061.08,89.58 L1061.52,89.65 L1061.96,89.73 L1062.41,89.82 L1062.85,89.91 L1063.30,90.02 L1063.74,90.14 L1064.18,90.27 L1064.63,90.40 L1065.07,90.55 L1065.51,90.70 L1065.96,90.87 L1066.40,91.04 L1066.84,91.22 L1067.29,91.42 L1067.73,91.62 L1068.17,91.83 L1068.62,92.05 L1069.06,92.28 L1069.50,92.52 L1069.95,92.77 L1070.39,93.03 L1070.84,93.29 L1071.28,93.57 L1071.72,93.86 L1072.17,94.15 L1072.61,94.46 L1073.05,94.77 L1073.50,95.10 L1073.94,95.43 L1074.38,95.77 L1074.83,96.12 L1075.27,96.48 L1075.71,96.85 L1076.16,97.23 L1076.60,97.62 L1077.05,98.02 L1077.49,98.43 L1077.93,98.84 L1078.38,99.27 L1078.82,99.71 L1079.26,100.15 L1079.71,100.60 L1080.15,101.07 L1080.59,101.54 L1081.04,102.02 L1081.48,102.51 L1081.92,103.01 L1082.37,103.52 L1082.81,104.04 L1083.26,104.57 L1083.70,105.10 L1084.14,105.65 L1084.59,106.20 L1085.03,106.77 L1085.47,107.34 L1085.92,107.92 L1086.36,108.51 L1086.80,109.11 L1087.25,109.72 L1087.69,110.34 L1088.13,110.97 L1088.58,111.61 L1089.02,112.25 L1089.46,112.91 L1089.91,113.57 L1090.35,114.25 L1090.80,114.93 L1091.24,115.62 L1091.68,116.32 L1092.13,117.03 L1092.57,117.75 L1093.01,118.47 L1093.46,119.21 L1093.90,119.95 L1094.34,120.71 L1094.79,121.47 L1095.23,122.24 L1095.67,123.02 L1096.12,123.81 L1096.56,124.61 L1097.01,125.42 L1097.45,126.23 L1097.89,127.06 L1098.34,127.89 L1098.78,128.73 L1099.22,129.58 L1099.67,130.44 L1100.11,131.31 L1100.55,132.19 L1101.00,133.08 L1101.44,133.97 L1101.88,134.87 L1102.33,135.79 L1102.77,136.71 L1103.21,137.64 L1103.66,138.57 L1104.10,139.52 L1104.55,140.47 L1104.99,141.44 L1105.43,142.41 L1105.88,143.39 L1106.32,144.38 L1106.76,145.38 L1107.21,146.38 L1107.65,147.40 L1108.09,148.42 L1108.54,149.45 L1108.98,150.49 L1109.42,151.54 L1109.87,152.60 L1110.31,153.67 L1110.76,154.74 L1111.20,155.82 L1111.64,156.91 L1112.09,158.01 L1112.53,159.12 L1112.97,160.23 L1113.42,161.35 L1113.86,162.49 L1114.30,163.63 L1114.75,164.77 L1115.19,165.93 L1115.63,167.09 L1116.08,168.27 L1116.52,169.45 L1116.97,170.64 L1117.41,171.83 L1117.85,173.04 L1118.30,174.25 L1118.74,175.47 L1119.18,176.70 L1119.63,177.94 L1120.07,179.18 L1120.51,180.43 L1120.96,181.70 L1121.40,182.96 L1121.84,184.24 L1122.29,185.52 L1122.73,186.82 L1123.17,188.12 L1123.62,189.42 L1124.06,190.74 L1124.51,192.06 L1124.95,193.39 L1125.39,194.73 L1125.84,196.08 L1126.28,197.43 L1126.72,198.79 L1127.17,200.16 L1127.61,201.54 L1128.05,202.92 L1128.50,204.32 L1128.94,205.72 L1129.38,207.12 L1129.83,208.54 L1130.27,209.96 L1130.72,211.39 L1131.16,212.82 L1131.60,214.27 L1132.05,215.72 L1132.49,217.18 L1132.93,218.64 L1133.38,220.12 L1133.82,221.60 L1134.26,223.09 L1134.71,224.58 L1135.15,226.08 L1135.59,227.59 L1136.04,229.11 L1136.48,230.63 L1136.93,232.16 L1137.37,233.70 L1137.81,235.25 L1138.26,236.80 L1138.70,238.36 L1139.14,239.92 L1139.59,241.50 L1140.03,243.07 L1140.47,244.66 L1140.92,246.25 L1141.36,247.86 L1141.80,249.46 L1142.25,251.08 L1142.69,252.70 L1143.13,254.32 L1143.58,255.96 L1144.02,257.60 L1144.47,259.25 L1144.91,260.90 L1145.35,262.56 L1145.80,264.23 L1146.24,265.90 L1146.68,267.58 L1147.13,269.27 L1147.57,270.96 L1148.01,272.66 L1148.46,274.37 L1148.90,276.08 L1149.34,277.80 L1149.79,279.52 L1150.23,281.26 L1150.68,282.99 L1151.12,284.74 L1151.56,286.49 L1152.01,288.24 L1152.45,290.01 L1152.89,291.77 L1153.34,293.55 L1153.78,295.33 L1154.22,297.12 L1154.67,298.91 L1155.11,300.71 L1155.55,302.51 L1156.00,304.32 L1156.44,306.14 L1156.88,307.96 L1157.33,309.79 L1157.77,311.63 L1158.22,313.47 L1158.66,315.31 L1159.10,317.16 L1159.55,319.02 L1159.99,320.88 L1160.43,322.75 L1160.88,324.63 L1161.32,326.51 L1161.76,328.39 L1162.21,330.28 L1162.65,332.18 L1163.09,334.08 L1163.54,335.99 L1163.98,337.90 L1164.43,339.82 L1164.87,341.74 L1165.31,343.67 L1165.76,345.60 L1166.20,347.54 L1166.64,349.49 L1167.09,351.44 L1167.53,353.39 L1167.97,355.35 L1168.42,357.32 L1168.86,359.29 L1169.30,361.26 L1169.75,363.24" fill="none" stroke="#ed1c24" stroke-width="3.3" stroke-dasharray="10.6 5.4" stroke-dashoffset="4.86"/>
<path d="M947.97,598.90 L948.41,597.25 L948.86,595.60 L949.30,593.95 L949.75,592.31 L950.19,590.68 L950.63,589.04 L951.08,587.41 L951.52,585.79 L951.96,584.17 L952.41,582.55 L952.85,580.94 L953.29,579.34 L953.74,577.73 L954.18,576.13 L954.62,574.54 L955.07,572.95 L955.51,571.36 L955.96,569.78 L956.40,568.20 L956.84,566.63 L957.29,565.06 L957.73,563.50 L958.17,561.94 L958.62,560.39 L959.06,558.84 L959.50,557.29 L959.95,555.75 L960.39,554.21 L960.83,552.68 L961.28,551.16 L961.72,549.64 L962.16,548.12 L962.61,546.61 L963.05,545.10 L963.50,543.60 L963.94,542.10 L964.38,540.61 L964.83,539.12 L965.27,537.64 L965.71,536.16 L966.16,534.69 L966.60,533.22 L967.04,531.76 L967.49,530.30 L967.93,528.85 L968.37,527.40 L968.82,525.96 L969.26,524.52 L969.71,523.09 L970.15,521.67 L970.59,520.25 L971.04,518.83 L971.48,517.42 L971.92,516.02 L972.37,514.62 L972.81,513.22 L973.25,511.83 L973.70,510.45 L974.14,509.07 L974.58,507.70 L975.03,506.34 L975.47,504.98 L975.92,503.62 L976.36,502.27 L976.80,500.93 L977.25,499.59 L977.69,498.26 L978.13,496.93 L978.58,495.61 L979.02,494.30 L979.46,492.99 L979.91,491.68 L980.35,490.39 L980.79,489.09 L981.24,487.81 L981.68,486.53 L982.12,485.25 L982.57,483.99 L983.01,482.73 L983.46,481.47 L983.90,480.22 L984.34,478.98 L984.79,477.74 L985.23,476.51 L985.67,475.28 L986.12,474.06 L986.56,472.85 L987.00,471.64 L987.45,470.44 L987.89,469.25 L988.33,468.06 L988.78,466.88 L989.22,465.70 L989.67,464.53 L990.11,463.37 L990.55,462.22 L991.00,461.07 L991.44,459.92 L991.88,458.79 L992.33,457.66 L992.77,456.53 L993.21,455.41 L993.66,454.30 L994.10,453.20 L994.54,452.10 L994.99,451.01 L995.43,449.93 L995.87,448.85 L996.32,447.78 L996.76,446.71 L997.21,445.65 L997.65,444.60 L998.09,443.56 L998.54,442.52 L998.98,441.49 L999.42,440.47 L999.87,439.45 L1000.31,438.44 L1000.75,437.44 L1001.20,436.44 L1001.64,435.45 L1002.08,434.47 L1002.53,433.49 L1002.97,432.52 L1003.42,431.56 L1003.86,430.61 L1004.30,429.66 L1004.75,428.72 L1005.19,427.78 L1005.63,426.86 L1006.08,425.94 L1006.52,425.03 L1006.96,424.12 L1007.41,423.22 L1007.85,422.33 L1008.29,421.45 L1008.74,420.57 L1009.18,419.70 L1009.63,418.84 L1010.07,417.99 L1010.51,417.14 L1010.96,416.30 L1011.40,415.47 L1011.84,414.64 L1012.29,413.82 L1012.73,413.01 L1013.17,412.21 L1013.62,411.41 L1014.06,410.62 L1014.50,409.84 L1014.95,409.07 L1015.39,408.30 L1015.83,407.54 L1016.28,406.79 L1016.72,406.04 L1017.17,405.31 L1017.61,404.58 L1018.05,403.86 L1018.50,403.14 L1018.94,402.44 L1019.38,401.74 L1019.83,401.05 L1020.27,400.36 L1020.71,399.69 L1021.16,399.02 L1021.60,398.36 L1022.04,397.70 L1022.49,397.06 L1022.93,396.42 L1023.38,395.79 L1023.82,395.17 L1024.26,394.55 L1024.71,393.95 L1025.15,393.35 L1025.59,392.75 L1026.04,392.17 L1026.48,391.59 L1026.92,391.03 L1027.37,390.47 L1027.81,389.91 L1028.25,389.37 L1028.70,388.83 L1029.14,388.30 L1029.59,387.78 L1030.03,387.27 L1030.47,386.76 L1030.92,386.26 L1031.36,385.77 L1031.80,385.29 L1032.25,384.82 L1032.69,384.35 L1033.13,383.89 L1033.58,383.44 L1034.02,383.00 L1034.46,382.57 L1034.91,382.14 L1035.35,381.72 L1035.79,381.31 L1036.24,380.91 L1036.68,380.51 L1037.13,380.13 L1037.57,379.75 L1038.01,379.38 L1038.46,379.01 L1038.90,378.66 L1039.34,378.31 L1039.79,377.98 L1040.23,377.65 L1040.67,377.32 L1041.12,377.01 L1041.56,376.70 L1042.00,376.40 L1042.45,376.11 L1042.89,375.83 L1043.34,375.56 L1043.78,375.29 L1044.22,375.04 L1044.67,374.79 L1045.11,374.54 L1045.55,374.31 L1046.00,374.09 L1046.44,373.87 L1046.88,373.66 L1047.33,373.46 L1047.77,373.27 L1048.21,373.08 L1048.66,372.91 L1049.10,372.74 L1049.54,372.58 L1049.99,372.43 L1050.43,372.28 L1050.88,372.15 L1051.32,372.02 L1051.76,371.90 L1052.21,371.79 L1052.65,371.69 L1053.09,371.59 L1053.54,371.51 L1053.98,371.43 L1054.42,371.36 L1054.87,371.30 L1055.31,371.24 L1055.75,371.20 L1056.20,371.16 L1056.64,371.13 L1057.09,371.11 L1057.53,371.10 L1057.97,371.09 L1058.42,371.10 L1058.86,371.11 L1059.30,371.13 L1059.75,371.16 L1060.19,371.19 L1060.63,371.24 L1061.08,371.29 L1061.52,371.35 L1061.96,371.42 L1062.41,371.50 L1062.85,371.58 L1063.30,371.68 L1063.74,371.78 L1064.18,371.89 L1064.63,372.00 L1065.07,372.13 L1065.51,372.27 L1065.96,372.41 L1066.40,372.56 L1066.84,372.72 L1067.29,372.89 L1067.73,373.06 L1068.17,373.24 L1068.62,373.44 L1069.06,373.64 L1069.50,373.84 L1069.95,374.06 L1070.39,374.28 L1070.84,374.52 L1071.28,374.76 L1071.72,375.00 L1072.17,375.26 L1072.61,375.53 L1073.05,375.80 L1073.50,376.08 L1073.94,376.37 L1074.38,376.67 L1074.83,376.97 L1075.27,377.28 L1075.71,377.60 L1076.16,377.93 L1076.60,378.27 L1077.05,378.62 L1077.49,378.97 L1077.93,379.33 L1078.38,379.70 L1078.82,380.08 L1079.26,380.46 L1079.71,380.86 L1080.15,381.26 L1080.59,381.67 L1081.04,382.09 L1081.48,382.51 L1081.92,382.95 L1082.37,383.39 L1082.81,383.84 L1083.26,384.29 L1083.70,384.76 L1084.14,385.23 L1084.59,385.71 L1085.03,386.20 L1085.47,386.70 L1085.92,387.20 L1086.36,387.72 L1086.80,388.24 L1087.25,388.76 L1087.69,389.30 L1088.13,389.84 L1088.58,390.40 L1089.02,390.96 L1089.46,391.52 L1089.91,392.10 L1090.35,392.68 L1090.80,393.27 L1091.24,393.87 L1091.68,394.48 L1092.13,395.09 L1092.57,395.71 L1093.01,396.34 L1093.46,396.98 L1093.90,397.62 L1094.34,398.28 L1094.79,398.94 L1095.23,399.60 L1095.67,400.28 L1096.12,400.96 L1096.56,401.65 L1097.01,402.35 L1097.45,403.06 L1097.89,403.77 L1098.34,404.49 L1098.78,405.22 L1099.22,405.95 L1099.67,406.70 L1100.11,407.45 L1100.55,408.21 L1101.00,408.97 L1101.44,409.74 L1101.88,410.52 L1102.33,411.31 L1102.77,412.11 L1103.21,412.91 L1103.66,413.72 L1104.10,414.54 L1104.55,415.36 L1104.99,416.19 L1105.43,417.03 L1105.88,417.88 L1106.32,418.73 L1106.76,419.60 L1107.21,420.46 L1107.65,421.34 L1108.09,422.22 L1108.54,423.11 L1108.98,424.01 L1109.42,424.91 L1109.87,425.83 L1110.31,426.74 L1110.76,427.67 L1111.20,428.60 L1111.64,429.54 L1112.09,430.49 L1112.53,431.44 L1112.97,432.40 L1113.42,433.37 L1113.86,434.35 L1114.30,435.33 L1114.75,436.32 L1115.19,437.31 L1115.63,438.31 L1116.08,439.32 L1116.52,440.34 L1116.97,441.36 L1117.41,442.39 L1117.85,443.43 L1118.30,444.47 L1118.74,445.52 L1119.18,446.58 L1119.63,447.64 L1120.07,448.71 L1120.51,449.79 L1120.96,450.88 L1121.40,451.97 L1121.84,453.06 L1122.29,454.17 L1122.73,455.28 L1123.17,456.39 L1123.62,457.52 L1124.06,458.65 L1124.51,459.78 L1124.95,460.92 L1125.39,462.07 L1125.84,463.23 L1126.28,464.39 L1126.72,465.56 L1127.17,466.73 L1127.61,467.91 L1128.05,469.10 L1128.50,470.29 L1128.94,471.49 L1129.38,472.70 L1129.83,473.91 L1130.27,475.13 L1130.72,476.35 L1131.16,477.59 L1131.60,478.82 L1132.05,480.07 L1132.49,481.31 L1132.93,482.57 L1133.38,483.83 L1133.82,485.10 L1134.26,486.37 L1134.71,487.65 L1135.15,488.93 L1135.59,490.23 L1136.04,491.52 L1136.48,492.82 L1136.93,494.13 L1137.37,495.45 L1137.81,496.77 L1138.26,498.09 L1138.70,499.42 L1139.14,500.76 L1139.59,502.10 L1140.03,503.45 L1140.47,504.81 L1140.92,506.17 L1141.36,507.53 L1141.80,508.90 L1142.25,510.28 L1142.69,511.66 L1143.13,513.05 L1143.58,514.44 L1144.02,515.84 L1144.47,517.25 L1144.91,518.66 L1145.35,520.07 L1145.80,521.49 L1146.24,522.92 L1146.68,524.35 L1147.13,525.78 L1147.57,527.22 L1148.01,528.67 L1148.46,530.12 L1148.90,531.58 L1149.34,533.04 L1149.79,534.51 L1150.23,535.98 L1150.68,537.45 L1151.12,538.94 L1151.56,540.42 L1152.01,541.91 L1152.45,543.41 L1152.89,544.91 L1153.34,546.42 L1153.78,547.93 L1154.22,549.45 L1154.67,550.97 L1155.11,552.49 L1155.55,554.02 L1156.00,555.56 L1156.44,557.10 L1156.88,558.64 L1157.33,560.19 L1157.77,561.75 L1158.22,563.31 L1158.66,564.87 L1159.10,566.44 L1159.55,568.01 L1159.99,569.59 L1160.43,571.17 L1160.88,572.75 L1161.32,574.34 L1161.76,575.94 L1162.21,577.53 L1162.65,579.14 L1163.09,580.74 L1163.54,582.35 L1163.98,583.97 L1164.43,585.59 L1164.87,587.21 L1165.31,588.84 L1165.76,590.47 L1166.20,592.11 L1166.64,593.75 L1167.09,595.39 L1167.53,597.04 L1167.97,598.69 L1168.42,600.35 L1168.86,602.01 L1169.30,603.67 L1169.75,605.34" fill="none" stroke="#6abd45" stroke-width="3.3"/>
<path d="M947.97,668.98 L948.41,667.56 L948.86,666.15 L949.30,664.73 L949.75,663.33 L950.19,661.92 L950.63,660.52 L951.08,659.12 L951.52,657.73 L951.96,656.34 L952.41,654.96 L952.85,653.58 L953.29,652.20 L953.74,650.82 L954.18,649.46 L954.62,648.09 L955.07,646.73 L955.51,645.37 L955.96,644.02 L956.40,642.67 L956.84,641.32 L957.29,639.98 L957.73,638.65 L958.17,637.31 L958.62,635.98 L959.06,634.66 L959.50,633.34 L959.95,632.02 L960.39,630.71 L960.83,629.41 L961.28,628.10 L961.72,626.80 L962.16,625.51 L962.61,624.22 L963.05,622.93 L963.50,621.65 L963.94,620.38 L964.38,619.10 L964.83,617.84 L965.27,616.57 L965.71,615.31 L966.16,614.06 L966.60,612.81 L967.04,611.57 L967.49,610.33 L967.93,609.09 L968.37,607.86 L968.82,606.63 L969.26,605.41 L969.71,604.19 L970.15,602.98 L970.59,601.77 L971.04,600.57 L971.48,599.37 L971.92,598.18 L972.37,596.99 L972.81,595.81 L973.25,594.63 L973.70,593.45 L974.14,592.29 L974.58,591.12 L975.03,589.96 L975.47,588.81 L975.92,587.66 L976.36,586.51 L976.80,585.37 L977.25,584.24 L977.69,583.11 L978.13,581.99 L978.58,580.87 L979.02,579.75 L979.46,578.64 L979.91,577.54 L980.35,576.44 L980.79,575.35 L981.24,574.26 L981.68,573.18 L982.12,572.10 L982.57,571.03 L983.01,569.96 L983.46,568.90 L983.90,567.84 L984.34,566.79 L984.79,565.74 L985.23,564.70 L985.67,563.67 L986.12,562.64 L986.56,561.61 L987.00,560.59 L987.45,559.58 L987.89,558.57 L988.33,557.57 L988.78,556.57 L989.22,555.58 L989.67,554.59 L990.11,553.61 L990.55,552.64 L991.00,551.67 L991.44,550.70 L991.88,549.74 L992.33,548.79 L992.77,547.84 L993.21,546.90 L993.66,545.97 L994.10,545.03 L994.54,544.11 L994.99,543.19 L995.43,542.28 L995.87,541.37 L996.32,540.47 L996.76,539.57 L997.21,538.68 L997.65,537.80 L998.09,536.92 L998.54,536.04 L998.98,535.18 L999.42,534.32 L999.87,533.46 L1000.31,532.61 L1000.75,531.77 L1001.20,530.93 L1001.64,530.10 L1002.08,529.27 L1002.53,528.45 L1002.97,527.64 L1003.42,526.83 L1003.86,526.03 L1004.30,525.23 L1004.75,524.44 L1005.19,523.66 L1005.63,522.88 L1006.08,522.11 L1006.52,521.34 L1006.96,520.58 L1007.41,519.83 L1007.85,519.08 L1008.29,518.34 L1008.74,517.60 L1009.18,516.87 L1009.63,516.15 L1010.07,515.43 L1010.51,514.72 L1010.96,514.02 L1011.40,513.32 L1011.84,512.63 L1012.29,511.94 L1012.73,511.26 L1013.17,510.59 L1013.62,509.92 L1014.06,509.26 L1014.50,508.61 L1014.95,507.96 L1015.39,507.31 L1015.83,506.68 L1016.28,506.05 L1016.72,505.43 L1017.17,504.81 L1017.61,504.20 L1018.05,503.59 L1018.50,503.00 L1018.94,502.40 L1019.38,501.82 L1019.83,501.24 L1020.27,500.67 L1020.71,500.10 L1021.16,499.54 L1021.60,498.99 L1022.04,498.44 L1022.49,497.90 L1022.93,497.37 L1023.38,496.84 L1023.82,496.32 L1024.26,495.81 L1024.71,495.30 L1025.15,494.80 L1025.59,494.31 L1026.04,493.82 L1026.48,493.34 L1026.92,492.86 L1027.37,492.39 L1027.81,491.93 L1028.25,491.47 L1028.70,491.03 L1029.14,490.58 L1029.59,490.15 L1030.03,489.72 L1030.47,489.30 L1030.92,488.88 L1031.36,488.47 L1031.80,488.07 L1032.25,487.67 L1032.69,487.28 L1033.13,486.90 L1033.58,486.52 L1034.02,486.16 L1034.46,485.79 L1034.91,485.44 L1035.35,485.09 L1035.79,484.74 L1036.24,484.41 L1036.68,484.08 L1037.13,483.76 L1037.57,483.44 L1038.01,483.13 L1038.46,482.83 L1038.90,482.53 L1039.34,482.24 L1039.79,481.96 L1040.23,481.69 L1040.67,481.42 L1041.12,481.15 L1041.56,480.90 L1042.00,480.65 L1042.45,480.41 L1042.89,480.17 L1043.34,479.94 L1043.78,479.72 L1044.22,479.51 L1044.67,479.30 L1045.11,479.10 L1045.55,478.90 L1046.00,478.72 L1046.44,478.54 L1046.88,478.36 L1047.33,478.19 L1047.77,478.03 L1048.21,477.88 L1048.66,477.73 L1049.10,477.59 L1049.54,477.46 L1049.99,477.33 L1050.43,477.21 L1050.88,477.10 L1051.32,476.99 L1051.76,476.89 L1052.21,476.80 L1052.65,476.72 L1053.09,476.64 L1053.54,476.56 L1053.98,476.50 L1054.42,476.44 L1054.87,476.39 L1055.31,476.34 L1055.75,476.31 L1056.20,476.28 L1056.64,476.25 L1057.09,476.23 L1057.53,476.22 L1057.97,476.22 L1058.42,476.22 L1058.86,476.23 L1059.30,476.25 L1059.75,476.27 L1060.19,476.30 L1060.63,476.34 L1061.08,476.38 L1061.52,476.43 L1061.96,476.49 L1062.41,476.56 L1062.85,476.63 L1063.30,476.71 L1063.74,476.79 L1064.18,476.88 L1064.63,476.98 L1065.07,477.09 L1065.51,477.20 L1065.96,477.32 L1066.40,477.44 L1066.84,477.58 L1067.29,477.71 L1067.73,477.86 L1068.17,478.01 L1068.62,478.17 L1069.06,478.34 L1069.50,478.51 L1069.95,478.69 L1070.39,478.88 L1070.84,479.07 L1071.28,479.27 L1071.72,479.48 L1072.17,479.70 L1072.61,479.92 L1073.05,480.14 L1073.50,480.38 L1073.94,480.62 L1074.38,480.87 L1074.83,481.12 L1075.27,481.38 L1075.71,481.65 L1076.16,481.93 L1076.60,482.21 L1077.05,482.50 L1077.49,482.79 L1077.93,483.09 L1078.38,483.40 L1078.82,483.72 L1079.26,484.04 L1079.71,484.37 L1080.15,484.70 L1080.59,485.04 L1081.04,485.39 L1081.48,485.75 L1081.92,486.11 L1082.37,486.48 L1082.81,486.85 L1083.26,487.24 L1083.70,487.62 L1084.14,488.02 L1084.59,488.42 L1085.03,488.83 L1085.47,489.24 L1085.92,489.67 L1086.36,490.09 L1086.80,490.53 L1087.25,490.97 L1087.69,491.42 L1088.13,491.87 L1088.58,492.33 L1089.02,492.80 L1089.46,493.28 L1089.91,493.76 L1090.35,494.24 L1090.80,494.74 L1091.24,495.24 L1091.68,495.75 L1092.13,496.26 L1092.57,496.78 L1093.01,497.30 L1093.46,497.84 L1093.90,498.38 L1094.34,498.92 L1094.79,499.47 L1095.23,500.03 L1095.67,500.60 L1096.12,501.17 L1096.56,501.75 L1097.01,502.33 L1097.45,502.92 L1097.89,503.52 L1098.34,504.12 L1098.78,504.73 L1099.22,505.35 L1099.67,505.97 L1100.11,506.60 L1100.55,507.24 L1101.00,507.88 L1101.44,508.52 L1101.88,509.18 L1102.33,509.84 L1102.77,510.51 L1103.21,511.18 L1103.66,511.86 L1104.10,512.54 L1104.55,513.23 L1104.99,513.93 L1105.43,514.64 L1105.88,515.35 L1106.32,516.06 L1106.76,516.78 L1107.21,517.51 L1107.65,518.25 L1108.09,518.99 L1108.54,519.73 L1108.98,520.49 L1109.42,521.25 L1109.87,522.01 L1110.31,522.78 L1110.76,523.56 L1111.20,524.34 L1111.64,525.13 L1112.09,525.93 L1112.53,526.73 L1112.97,527.54 L1113.42,528.35 L1113.86,529.17 L1114.30,530.00 L1114.75,530.83 L1115.19,531.66 L1115.63,532.51 L1116.08,533.36 L1116.52,534.21 L1116.97,535.07 L1117.41,535.94 L1117.85,536.81 L1118.30,537.69 L1118.74,538.57 L1119.18,539.46 L1119.63,540.36 L1120.07,541.26 L1120.51,542.16 L1120.96,543.08 L1121.40,544.00 L1121.84,544.92 L1122.29,545.85 L1122.73,546.78 L1123.17,547.73 L1123.62,548.67 L1124.06,549.63 L1124.51,550.58 L1124.95,551.55 L1125.39,552.52 L1125.84,553.49 L1126.28,554.47 L1126.72,555.46 L1127.17,556.45 L1127.61,557.44 L1128.05,558.45 L1128.50,559.45 L1128.94,560.47 L1129.38,561.49 L1129.83,562.51 L1130.27,563.54 L1130.72,564.57 L1131.16,565.61 L1131.60,566.66 L1132.05,567.71 L1132.49,568.77 L1132.93,569.83 L1133.38,570.89 L1133.82,571.97 L1134.26,573.04 L1134.71,574.13 L1135.15,575.21 L1135.59,576.31 L1136.04,577.40 L1136.48,578.51 L1136.93,579.62 L1137.37,580.73 L1137.81,581.85 L1138.26,582.97 L1138.70,584.10 L1139.14,585.23 L1139.59,586.37 L1140.03,587.52 L1140.47,588.66 L1140.92,589.82 L1141.36,590.98 L1141.80,592.14 L1142.25,593.31 L1142.69,594.48 L1143.13,595.66 L1143.58,596.84 L1144.02,598.03 L1144.47,599.22 L1144.91,600.42 L1145.35,601.62 L1145.80,602.83 L1146.24,604.04 L1146.68,605.26 L1147.13,606.48 L1147.57,607.71 L1148.01,608.94 L1148.46,610.17 L1148.90,611.41 L1149.34,612.66 L1149.79,613.91 L1150.23,615.16 L1150.68,616.42 L1151.12,617.68 L1151.56,618.95 L1152.01,620.22 L1152.45,621.49 L1152.89,622.77 L1153.34,624.06 L1153.78,625.35 L1154.22,626.64 L1154.67,627.94 L1155.11,629.24 L1155.55,630.55 L1156.00,631.86 L1156.44,633.18 L1156.88,634.50 L1157.33,635.82 L1157.77,637.15 L1158.22,638.48 L1158.66,639.82 L1159.10,641.16 L1159.55,642.50 L1159.99,643.85 L1160.43,645.20 L1160.88,646.56 L1161.32,647.92 L1161.76,649.29 L1162.21,650.65 L1162.65,652.03 L1163.09,653.40 L1163.54,654.78 L1163.98,656.17 L1164.43,657.56 L1164.87,658.95 L1165.31,660.35 L1165.76,661.75 L1166.20,663.15 L1166.64,664.56 L1167.09,665.97 L1167.53,667.39 L1167.97,668.80 L1168.42,670.23 L1168.86,671.65 L1169.30,673.08 L1169.75,674.52" fill="none" stroke="#3a53a4" stroke-width="3.3" stroke-dasharray="8.9 2.3 2.5 2.3" stroke-dashoffset="0.62"/>
</g>
<g id="main-axes">
<path class="ax" stroke-width="2.2" d="M87.2,78.85 V831.0"/>
<path class="ax" stroke-width="2.2" d="M86.10000000000001,831.0 H1076.2"/>
<path class="ax" stroke-width="2.0" d="M87.2,755.88 h13.8"/>
<path class="ax" stroke-width="2.0" d="M87.2,680.77 h13.8"/>
<path class="ax" stroke-width="2.0" d="M87.2,605.65 h13.8"/>
<path class="ax" stroke-width="2.0" d="M87.2,530.54 h13.8"/>
<path class="ax" stroke-width="2.0" d="M87.2,455.43 h13.8"/>
<path class="ax" stroke-width="2.0" d="M87.2,380.31 h13.8"/>
<path class="ax" stroke-width="2.0" d="M87.2,305.19 h13.8"/>
<path class="ax" stroke-width="2.0" d="M87.2,230.08 h13.8"/>
<path class="ax" stroke-width="2.0" d="M87.2,154.97 h13.8"/>
<path class="ax" stroke-width="2.0" d="M87.2,79.85 h13.8"/>
<path class="ax" stroke-width="2.0" d="M185.82,831.0 v-14.0"/>
<path class="ax" stroke-width="2.0" d="M284.64,831.0 v-14.0"/>
<path class="ax" stroke-width="2.0" d="M383.46,831.0 v-14.0"/>
<path class="ax" stroke-width="2.0" d="M482.28,831.0 v-14.0"/>
<path class="ax" stroke-width="2.0" d="M581.10,831.0 v-14.0"/>
<path class="ax" stroke-width="2.0" d="M679.92,831.0 v-14.0"/>
<path class="ax" stroke-width="2.0" d="M778.74,831.0 v-14.0"/>
<path class="ax" stroke-width="2.0" d="M877.56,831.0 v-14.0"/>
<path class="ax" stroke-width="2.0" d="M976.38,831.0 v-14.0"/>
<path class="ax" stroke-width="2.0" d="M1075.20,831.0 v-14.0"/>
</g>
<g id="main-labels">
<text x="72.8" y="767.09" text-anchor="end">0.05</text>
<text x="72.8" y="691.97" text-anchor="end">0.<tspan dx="-2.4">1</tspan><tspan dx="-1.4">0</tspan></text>
<text x="72.8" y="616.86" text-anchor="end">0.<tspan dx="-2.4">1</tspan><tspan dx="-1.4">5</tspan></text>
<text x="72.8" y="541.74" text-anchor="end">0.20</text>
<text x="72.8" y="466.62" text-anchor="end">0.25</text>
<text x="72.8" y="391.51" text-anchor="end">0.30</text>
<text x="72.8" y="316.39" text-anchor="end">0.35</text>
<text x="72.8" y="241.28" text-anchor="end">0.40</text>
<text x="72.8" y="166.17" text-anchor="end">0.45</text>
<text x="72.8" y="91.05" text-anchor="end">0.50</text>
<text x="72.8" y="842.00" text-anchor="end">0</text>
<text x="45.42" y="879"><tspan dy="4.2" textLength="30.2" lengthAdjust="spacingAndGlyphs">−</tspan><tspan dy="-4.2" dx="-0.5">0</tspan>.5</text>
<text x="144.24" y="879"><tspan dy="4.2" textLength="30.2" lengthAdjust="spacingAndGlyphs">−</tspan><tspan dy="-4.2" dx="-0.5">0</tspan>.4</text>
<text x="243.06" y="879"><tspan dy="4.2" textLength="30.2" lengthAdjust="spacingAndGlyphs">−</tspan><tspan dy="-4.2" dx="-0.5">0</tspan>.3</text>
<text x="341.88" y="879"><tspan dy="4.2" textLength="30.2" lengthAdjust="spacingAndGlyphs">−</tspan><tspan dy="-4.2" dx="-0.5">0</tspan>.2</text>
<text x="441.90" y="879"><tspan dy="4.2" textLength="30.2" lengthAdjust="spacingAndGlyphs">−</tspan><tspan dy="-4.2" dx="-0.5">0</tspan>.<tspan dx="-2.4">1</tspan></text>
<text x="581.10" y="879" text-anchor="middle">0</text>
<text x="654.62" y="879">0.<tspan dx="-2.4">1</tspan></text>
<text x="752.14" y="879">0.2</text>
<text x="850.96" y="879">0.3</text>
<text x="949.78" y="879">0.4</text>
<text x="1048.60" y="879">0.5</text>
<text class="it" transform="translate(2.0,35.3) scale(1.12,1)">W</text>
<text class="it" x="1081.2" y="930.4">ζ</text>
<text class="it" x="654.2" y="132.9">1</text>
<text class="it" x="568" y="220">2</text>
<text class="it" x="568.5" y="333">3</text>
</g>
<g id="inset-axes">
<path class="ax" stroke-width="2.2" d="M949.9,88.35 V612.05"/>
<path class="ax" stroke-width="2.2" d="M948.8,612.05 H1169.9"/>
<path class="ax" stroke-width="2.0" d="M949.9,593.96 h14.0"/>
<path class="ax" stroke-width="2.0" d="M949.9,537.89 h14.0"/>
<path class="ax" stroke-width="2.0" d="M949.9,481.83 h14.0"/>
<path class="ax" stroke-width="2.0" d="M949.9,425.76 h14.0"/>
<path class="ax" stroke-width="2.0" d="M949.9,369.69 h14.0"/>
<path class="ax" stroke-width="2.0" d="M949.9,313.62 h14.0"/>
<path class="ax" stroke-width="2.0" d="M949.9,257.55 h14.0"/>
<path class="ax" stroke-width="2.0" d="M949.9,201.49 h14.0"/>
<path class="ax" stroke-width="2.0" d="M949.9,145.42 h14.0"/>
<path class="ax" stroke-width="2.0" d="M949.9,89.35 h14.0"/>
<path class="ax" stroke-width="2.0" d="M1058.10,612.05 v-14.0"/>
<path class="ax" stroke-width="2.0" d="M1165.50,612.05 v-14.0"/>
</g>
<g id="inset-labels">
<text x="935.3" y="604.36" text-anchor="end">0.32</text>
<text x="935.3" y="548.29" text-anchor="end">0.34</text>
<text x="935.3" y="492.23" text-anchor="end">0.36</text>
<text x="935.3" y="436.16" text-anchor="end">0.38</text>
<text x="935.3" y="380.09" text-anchor="end">0.40</text>
<text x="935.3" y="324.02" text-anchor="end">0.42</text>
<text x="935.3" y="267.95" text-anchor="end">0.44</text>
<text x="935.3" y="211.89" text-anchor="end">0.46</text>
<text x="935.3" y="155.82" text-anchor="end">0.48</text>
<text x="935.3" y="99.75" text-anchor="end">0.50</text>
<text x="909.52" y="660"><tspan dy="4.2" textLength="30.2" lengthAdjust="spacingAndGlyphs">−</tspan><tspan dy="-4.2" dx="-0.5">0</tspan>.<tspan dx="-2.4">1</tspan></text>
<text x="1058.40" y="660" text-anchor="middle">0</text>
<text x="1140.20" y="660">0.<tspan dx="-2.4">1</tspan></text>
<text class="it" x="1116.5" y="131.7">1</text>
<text class="it" x="1050.5" y="352">2</text>
<text class="it" x="1049.5" y="463.4">3</text>
</g>
</svg></body></html>
